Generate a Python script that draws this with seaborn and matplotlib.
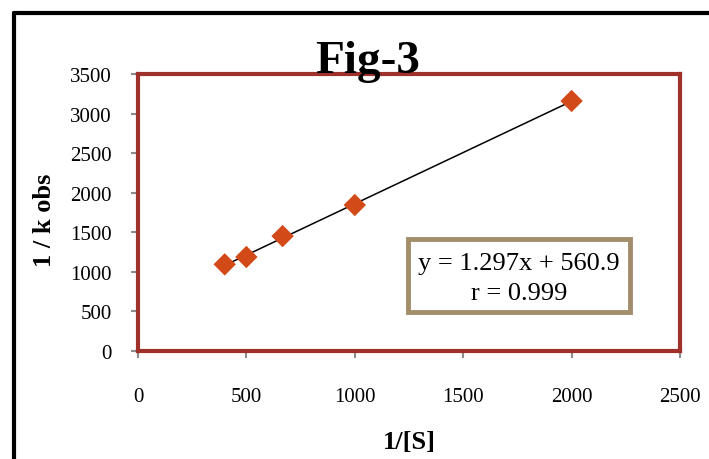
import numpy as np
import pandas as pd
import matplotlib
matplotlib.use('Agg')
import matplotlib.pyplot as plt
from matplotlib.patches import Rectangle
from matplotlib.lines import Line2D
import seaborn as sns

# data
inv_s = [400, 500, 667, 1000, 2000]
inv_kobs = [1095, 1188, 1452, 1845, 3160]
x_ticks = [0, 500, 1000, 1500, 2000, 2500]
y_ticks = [0, 500, 1000, 1500, 2000, 2500, 3000, 3500]
eq_text = 'y = 1.297x + 560.9'
r_text = 'r = 0.999'

sns.set_theme(style='white')
plt.rcParams['font.family'] = ['Liberation Serif', 'DejaVu Serif']
plt.rcParams['text.color'] = 'black'

df = pd.DataFrame({'1/[S]': inv_s, '1/k obs': inv_kobs})

fig = plt.figure(figsize=(7.09, 4.6), dpi=100)
ax = fig.add_axes([0.1946, 0.2348, 0.7645, 0.602])

sns.regplot(data=df, x='1/[S]', y='1/k obs', scatter=False, ci=None,
            color='black', line_kws={'linewidth': 1.1}, ax=ax)
sns.scatterplot(data=df, x='1/[S]', y='1/k obs', marker='D', s=130,
                color='#d24a17', edgecolor='none', zorder=3, ax=ax)

ax.set_xlim(0, 2500)
ax.set_ylim(0, 3500)
ax.set_xticks(x_ticks)
ax.set_yticks(y_ticks)
ax.set_xlabel('')
ax.set_ylabel('')
ax.tick_params(axis='both', which='major', direction='out', length=5, width=1.5,
               color='#8c8c8c', labelsize=15, labelcolor='black', bottom=True, left=True)
ax.tick_params(axis='x', pad=21)
ax.tick_params(axis='y', pad=14)
for side in ['top', 'right', 'bottom', 'left']:
    ax.spines[side].set_color('#a0302a')
    ax.spines[side].set_linewidth(3)

# equation box
ax.add_patch(Rectangle((0.498, 0.141), 0.41, 0.263, transform=ax.transAxes,
                       facecolor='white', edgecolor='#a38e6c', linewidth=3.5, zorder=4))
ax.text(0.703, 0.318, eq_text, transform=ax.transAxes, ha='center', va='center',
        fontsize=19, zorder=5)
ax.text(0.703, 0.208, r_text, transform=ax.transAxes, ha='center', va='center',
        fontsize=19, zorder=5)

fig.text(0.518, 0.842, 'Fig-3', ha='center', va='baseline', fontsize=34, fontweight='bold')
fig.text(0.063, 0.52, '1 / k obs', ha='center', va='center', rotation=90,
         fontsize=19, fontweight='bold')
fig.text(0.578, 0.037, '1/[S]', ha='center', va='center', fontsize=19, fontweight='bold')

# outer black frame (cut at right/bottom)
fig.add_artist(Line2D([13.5 / 709, 13.5 / 709], [0, 1 - 14 / 460], color='black',
                      linewidth=3, transform=fig.transFigure))
fig.add_artist(Line2D([13.5 / 709, 1], [1 - 14 / 460, 1 - 14 / 460], color='black',
                      linewidth=3, transform=fig.transFigure))

fig.savefig('out.png', dpi=100)
